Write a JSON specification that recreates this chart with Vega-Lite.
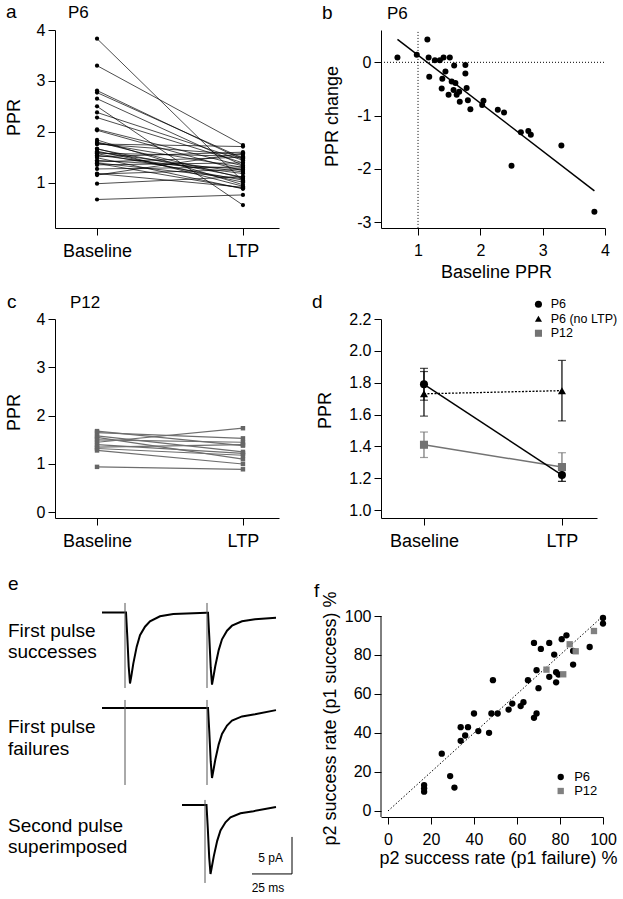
{
"$schema":"https://vega.github.io/schema/vega-lite/v6.json",
"background":"white",
"padding":{"left":5,"top":2,"right":0,"bottom":0},
"config":{
 "font":"Liberation Sans",
 "view":{"stroke":null},
 "axis":{"grid":false,"domainColor":"black","tickColor":"black","labelColor":"black","titleColor":"black","labelFontSize":16,"titleFontSize":18,"titleFontWeight":"normal","tickSize":7,"labelPadding":3,"domainWidth":1,"tickWidth":1,"labelFont":"Liberation Sans","titleFont":"Liberation Sans","labelFlush":false,"labelOverlap":false},
 "axisX":{"labelPadding":7},
 "legend":{"labelFont":"Liberation Sans","labelFontSize":13,"labelColor":"black","symbolStrokeWidth":0,"symbolOpacity":1,"padding":0},
 "text":{"font":"Liberation Sans","color":"black"}
},
"datasets":{
 "aLong":[{"id":1,"cond":0,"ppr":0.67},{"id":1,"cond":1,"ppr":0.76},{"id":2,"cond":0,"ppr":0.98},{"id":2,"cond":1,"ppr":1.12},{"id":3,"cond":0,"ppr":1.15},{"id":3,"cond":1,"ppr":1.58},{"id":4,"cond":0,"ppr":1.17},{"id":4,"cond":1,"ppr":1.26},{"id":5,"cond":0,"ppr":1.18},{"id":5,"cond":1,"ppr":0.91},{"id":6,"cond":0,"ppr":1.27},{"id":6,"cond":1,"ppr":1.31},{"id":7,"cond":0,"ppr":1.35},{"id":7,"cond":1,"ppr":1.39},{"id":8,"cond":0,"ppr":1.41},{"id":8,"cond":1,"ppr":1.50},{"id":9,"cond":0,"ppr":1.51},{"id":9,"cond":1,"ppr":1.60},{"id":10,"cond":0,"ppr":1.39},{"id":10,"cond":1,"ppr":1.08},{"id":11,"cond":0,"ppr":1.38},{"id":11,"cond":1,"ppr":0.89},{"id":12,"cond":0,"ppr":1.44},{"id":12,"cond":1,"ppr":1.27},{"id":13,"cond":0,"ppr":1.49},{"id":13,"cond":1,"ppr":0.88},{"id":14,"cond":0,"ppr":1.54},{"id":14,"cond":1,"ppr":1.18},{"id":15,"cond":0,"ppr":1.57},{"id":15,"cond":1,"ppr":1.05},{"id":16,"cond":0,"ppr":1.58},{"id":16,"cond":1,"ppr":1.52},{"id":17,"cond":0,"ppr":1.60},{"id":17,"cond":1,"ppr":1.21},{"id":18,"cond":0,"ppr":1.62},{"id":18,"cond":1,"ppr":1.01},{"id":19,"cond":0,"ppr":1.66},{"id":19,"cond":1,"ppr":1.11},{"id":20,"cond":0,"ppr":1.67},{"id":20,"cond":1,"ppr":0.93},{"id":21,"cond":0,"ppr":1.76},{"id":21,"cond":1,"ppr":1.71},{"id":22,"cond":0,"ppr":1.76},{"id":22,"cond":1,"ppr":1.55},{"id":23,"cond":0,"ppr":1.78},{"id":23,"cond":1,"ppr":1.30},{"id":24,"cond":0,"ppr":1.80},{"id":24,"cond":1,"ppr":1.09},{"id":25,"cond":0,"ppr":1.84},{"id":25,"cond":1,"ppr":0.96},{"id":26,"cond":0,"ppr":2.05},{"id":26,"cond":1,"ppr":1.33},{"id":27,"cond":0,"ppr":2.03},{"id":27,"cond":1,"ppr":1.23},{"id":28,"cond":0,"ppr":2.28},{"id":28,"cond":1,"ppr":1.39},{"id":29,"cond":0,"ppr":2.38},{"id":29,"cond":1,"ppr":1.44},{"id":30,"cond":0,"ppr":2.50},{"id":30,"cond":1,"ppr":0.56},{"id":31,"cond":0,"ppr":2.65},{"id":31,"cond":1,"ppr":1.34},{"id":32,"cond":0,"ppr":2.77},{"id":32,"cond":1,"ppr":1.48},{"id":33,"cond":0,"ppr":2.81},{"id":33,"cond":1,"ppr":1.45},{"id":34,"cond":0,"ppr":3.30},{"id":34,"cond":1,"ppr":1.74},{"id":35,"cond":0,"ppr":3.83},{"id":35,"cond":1,"ppr":1.03}],
 "bData":[{"base":0.67,"change":0.09},{"base":0.98,"change":0.14},{"base":1.15,"change":0.43},{"base":1.17,"change":0.09},{"base":1.18,"change":-0.27},{"base":1.27,"change":0.04},{"base":1.35,"change":0.04},{"base":1.41,"change":0.09},{"base":1.51,"change":0.09},{"base":1.39,"change":-0.31},{"base":1.38,"change":-0.49},{"base":1.44,"change":-0.17},{"base":1.49,"change":-0.61},{"base":1.54,"change":-0.36},{"base":1.57,"change":-0.52},{"base":1.58,"change":-0.06},{"base":1.60,"change":-0.39},{"base":1.62,"change":-0.61},{"base":1.66,"change":-0.55},{"base":1.67,"change":-0.74},{"base":1.76,"change":-0.05},{"base":1.76,"change":-0.21},{"base":1.78,"change":-0.48},{"base":1.80,"change":-0.71},{"base":1.84,"change":-0.88},{"base":2.05,"change":-0.72},{"base":2.03,"change":-0.80},{"base":2.28,"change":-0.89},{"base":2.38,"change":-0.94},{"base":2.50,"change":-1.94},{"base":2.65,"change":-1.31},{"base":2.77,"change":-1.29},{"base":2.81,"change":-1.36},{"base":3.30,"change":-1.56},{"base":3.83,"change":-2.80}],
 "cLong":[{"id":1,"cond":0,"ppr":1.68},{"id":1,"cond":1,"ppr":1.38},{"id":2,"cond":0,"ppr":1.65},{"id":2,"cond":1,"ppr":1.53},{"id":3,"cond":0,"ppr":1.58},{"id":3,"cond":1,"ppr":1.25},{"id":4,"cond":0,"ppr":1.55},{"id":4,"cond":1,"ppr":1.10},{"id":5,"cond":0,"ppr":1.50},{"id":5,"cond":1,"ppr":1.45},{"id":6,"cond":0,"ppr":1.45},{"id":6,"cond":1,"ppr":1.74},{"id":7,"cond":0,"ppr":1.40},{"id":7,"cond":1,"ppr":1.22},{"id":8,"cond":0,"ppr":1.35},{"id":8,"cond":1,"ppr":1.40},{"id":9,"cond":0,"ppr":1.32},{"id":9,"cond":1,"ppr":1.18},{"id":10,"cond":0,"ppr":1.28},{"id":10,"cond":1,"ppr":1.00},{"id":11,"cond":0,"ppr":0.94},{"id":11,"cond":1,"ppr":0.89}],
 "dData":[{"s":"P12","cond":0,"m":1.41,"lo":1.33,"hi":1.49},{"s":"P12","cond":1,"m":1.27,"lo":1.18,"hi":1.36},{"s":"P6 (no LTP)","cond":0,"m":1.73,"lo":1.59,"hi":1.87},{"s":"P6 (no LTP)","cond":1,"m":1.75,"lo":1.56,"hi":1.94},{"s":"P6","cond":0,"m":1.79,"lo":1.69,"hi":1.89},{"s":"P6","cond":1,"m":1.22,"lo":1.18,"hi":1.26}],
 "eTraces":[{"tr":1,"t":0,"pA":0.47},{"tr":1,"t":14.06,"pA":0.47},{"tr":1,"t":15.0,"pA":0.47},{"tr":1,"t":15.81,"pA":-2.78},{"tr":1,"t":16.69,"pA":-6.82},{"tr":1,"t":17.5,"pA":-9.12},{"tr":1,"t":18.31,"pA":-8.16},{"tr":1,"t":19.56,"pA":-6.43},{"tr":1,"t":21.69,"pA":-4.14},{"tr":1,"t":23.75,"pA":-2.59},{"tr":1,"t":26.88,"pA":-1.45},{"tr":1,"t":30.0,"pA":-0.73},{"tr":1,"t":36.25,"pA":-0.04},{"tr":1,"t":44.56,"pA":0.28},{"tr":1,"t":61.25,"pA":0.42},{"tr":1,"t":65.31,"pA":0.45},{"tr":1,"t":66.25,"pA":0.45},{"tr":1,"t":67.06,"pA":-2.86},{"tr":1,"t":67.94,"pA":-6.95},{"tr":1,"t":68.75,"pA":-9.28},{"tr":1,"t":69.56,"pA":-8.31},{"tr":1,"t":70.81,"pA":-6.76},{"tr":1,"t":72.94,"pA":-4.61},{"tr":1,"t":75.0,"pA":-3.15},{"tr":1,"t":78.13,"pA":-1.99},{"tr":1,"t":81.25,"pA":-1.31},{"tr":1,"t":87.5,"pA":-0.72},{"tr":1,"t":95.63,"pA":-0.43},{"tr":1,"t":108.75,"pA":-0.23},
  {"tr":2,"t":0,"pA":-12.43},{"tr":2,"t":65.31,"pA":-12.43},{"tr":2,"t":66.25,"pA":-12.43},{"tr":2,"t":67.06,"pA":-15.65},{"tr":2,"t":67.94,"pA":-19.62},{"tr":2,"t":68.75,"pA":-21.89},{"tr":2,"t":69.56,"pA":-20.95},{"tr":2,"t":70.81,"pA":-19.43},{"tr":2,"t":72.94,"pA":-17.35},{"tr":2,"t":75.0,"pA":-15.93},{"tr":2,"t":78.13,"pA":-14.80},{"tr":2,"t":81.25,"pA":-14.14},{"tr":2,"t":87.5,"pA":-13.57},{"tr":2,"t":95.63,"pA":-13.28},{"tr":2,"t":108.75,"pA":-12.72},
  {"tr":3,"t":50.0,"pA":-25.54},{"tr":3,"t":64.38,"pA":-25.54},{"tr":3,"t":65.31,"pA":-25.54},{"tr":3,"t":66.13,"pA":-28.72},{"tr":3,"t":67.0,"pA":-32.62},{"tr":3,"t":67.81,"pA":-34.86},{"tr":3,"t":68.63,"pA":-33.93},{"tr":3,"t":69.88,"pA":-32.45},{"tr":3,"t":72.0,"pA":-30.39},{"tr":3,"t":74.06,"pA":-28.99},{"tr":3,"t":77.19,"pA":-27.88},{"tr":3,"t":80.31,"pA":-27.22},{"tr":3,"t":86.56,"pA":-26.66},{"tr":3,"t":94.69,"pA":-26.38},{"tr":3,"t":108.75,"pA":-25.82}],
 "eArt":[{"tr":1,"t":14.38,"top":1.76,"bot":-9.73},{"tr":1,"t":65.63,"top":1.76,"bot":-9.73},{"tr":2,"t":14.38,"top":-11.35,"bot":-22.84},{"tr":2,"t":65.63,"top":-11.35,"bot":-22.84},{"tr":3,"t":64.38,"top":-24.86,"bot":-36.08}],
 "eBar":[{"t1":118.75,"t2":118.75,"p1":-29.86,"p2":-34.86},{"t1":93.75,"t2":118.75,"p1":-34.86,"p2":-34.86}],
 "fData":[{"g":"P6","fx":16.8,"fy":13.3},{"g":"P6","fx":16.8,"fy":11.6},{"g":"P6","fx":16.8,"fy":9.9},{"g":"P6","fx":25.0,"fy":29.4},{"g":"P6","fx":28.9,"fy":17.9},{"g":"P6","fx":30.9,"fy":12.0},{"g":"P6","fx":33.8,"fy":36.0},{"g":"P6","fx":33.8,"fy":43.0},{"g":"P6","fx":35.9,"fy":38.7},{"g":"P6","fx":37.2,"fy":43.0},{"g":"P6","fx":40.0,"fy":50.0},{"g":"P6","fx":42.0,"fy":41.0},{"g":"P6","fx":47.0,"fy":40.1},{"g":"P6","fx":48.1,"fy":50.0},{"g":"P6","fx":48.8,"fy":67.1},{"g":"P6","fx":51.0,"fy":50.0},{"g":"P6","fx":56.1,"fy":52.0},{"g":"P6","fx":57.8,"fy":55.1},{"g":"P6","fx":61.7,"fy":53.8},{"g":"P6","fx":63.0,"fy":55.8},{"g":"P6","fx":65.1,"fy":67.1},{"g":"P6","fx":67.9,"fy":47.8},{"g":"P6","fx":69.1,"fy":50.0},{"g":"P6","fx":67.9,"fy":86.2},{"g":"P6","fx":71.1,"fy":83.1},{"g":"P6","fx":69.1,"fy":72.2},{"g":"P6","fx":70.0,"fy":63.0},{"g":"P6","fx":75.0,"fy":86.2},{"g":"P6","fx":75.0,"fy":68.8},{"g":"P6","fx":77.3,"fy":80.2},{"g":"P6","fx":78.2,"fy":71.2},{"g":"P6","fx":78.2,"fy":66.0},{"g":"P6","fx":79.3,"fy":70.0},{"g":"P6","fx":80.8,"fy":88.1},{"g":"P6","fx":83.0,"fy":90.1},{"g":"P6","fx":86.1,"fy":82.1},{"g":"P6","fx":86.1,"fy":75.1},{"g":"P6","fx":93.8,"fy":84.1},{"g":"P6","fx":100,"fy":99.0},{"g":"P6","fx":100,"fy":96.1},{"g":"P12","fx":73.7,"fy":72.5},{"g":"P12","fx":84.5,"fy":85.5},{"g":"P12","fx":87.3,"fy":81.9},{"g":"P12","fx":81.5,"fy":70.1},{"g":"P12","fx":95.8,"fy":92.3}]
},
"resolve":{"scale":{"x":"independent","y":"independent","color":"independent","shape":"independent"},"legend":{"color":"independent","shape":"independent"}},
"bounds":"flush",
"columns":2,
"spacing":{"row":91,"column":81},
"concat":[
    {"width":224,"height":198,"layer":[
     {"data":{"name":"aLong"},"mark":{"type":"line","color":"black","strokeWidth":0.7},"encoding":{"x":{"field":"cond","type":"quantitative","scale":{"domain":[-0.288,1.247],"nice":false,"zero":false},"axis":{"values":[0,1],"tickCount":2,"labelExpr":"datum.value == 0 ? 'Baseline' : 'LTP'","labelFontSize":18,"title":null}},"y":{"field":"ppr","type":"quantitative","scale":{"domain":[0.11,4],"nice":false,"zero":false},"axis":{"values":[1,2,3,4],"tickCount":4,"format":"d","title":"PPR","titleX":-32,"titleY":87}},"detail":{"field":"id","type":"nominal"}}},
     {"data":{"name":"aLong"},"mark":{"type":"point","filled":true,"color":"black","size":18,"opacity":1},"encoding":{"x":{"field":"cond","type":"quantitative"},"y":{"field":"ppr","type":"quantitative"}}},
     {"data":{"values":[{}]},"mark":{"type":"text","text":"a","fontSize":19,"align":"left","baseline":"alphabetic"},"encoding":{"x":{"datum":-0.624},"y":{"datum":4.236}}},
     {"data":{"values":[{}]},"mark":{"type":"text","text":"P6","fontSize":17,"align":"left","baseline":"alphabetic"},"encoding":{"x":{"datum":-0.199},"y":{"datum":4.236}}}
    ]},
    {"width":224,"height":198,"layer":[
     {"data":{"values":[{}]},"mark":{"type":"rule","color":"black","strokeWidth":1,"strokeDash":[1,2]},"encoding":{"x":{"datum":1},"y":{"datum":0.57},"y2":{"datum":-3.107}}},
     {"data":{"values":[{}]},"mark":{"type":"rule","color":"black","strokeWidth":1,"strokeDash":[1,2]},"encoding":{"y":{"datum":0},"x":{"datum":0.406},"x2":{"datum":4}}},
     {"data":{"values":[{"bx":0.67,"by":0.43},{"bx":3.83,"by":-2.41}]},"mark":{"type":"line","color":"black","strokeWidth":1.5},"encoding":{"x":{"field":"bx","type":"quantitative"},"y":{"field":"by","type":"quantitative"}}},
     {"data":{"name":"bData"},"mark":{"type":"point","filled":true,"color":"black","size":36,"opacity":1},"encoding":{"x":{"field":"base","type":"quantitative","scale":{"domain":[0.406,4],"nice":false,"zero":false},"axis":{"values":[1,2,3,4],"tickCount":4,"format":"d","title":"Baseline PPR","titleX":115,"titleY":49,"titleBaseline":"alphabetic"}},"y":{"field":"change","type":"quantitative","scale":{"domain":[-3.107,0.606],"nice":false,"zero":false},"axis":{"values":[0,-1,-2,-3],"tickCount":4,"labelExpr":"toString(datum.value)","title":"PPR change","titleX":-40,"titleY":86}}}},
     {"data":{"values":[{}]},"mark":{"type":"text","text":"b","fontSize":19,"align":"left","baseline":"alphabetic"},"encoding":{"x":{"datum":-0.541},"y":{"datum":0.812}}},
     {"data":{"values":[{}]},"mark":{"type":"text","text":"P6","fontSize":17,"align":"left","baseline":"alphabetic"},"encoding":{"x":{"datum":0.502},"y":{"datum":0.812}}}
    ]},
    {"width":224,"height":199,"layer":[
     {"data":{"name":"cLong"},"mark":{"type":"line","color":"#6e6e6e","strokeWidth":1.2},"encoding":{"x":{"field":"cond","type":"quantitative","scale":{"domain":[-0.288,1.247],"nice":false,"zero":false},"axis":{"values":[0,1],"tickCount":2,"labelExpr":"datum.value == 0 ? 'Baseline' : 'LTP'","labelFontSize":18,"title":null}},"y":{"field":"ppr","type":"quantitative","scale":{"domain":[-0.118,4],"nice":false,"zero":false},"axis":{"values":[0,1,2,3,4],"tickCount":5,"format":"d","title":"PPR","titleX":-32,"titleY":93}},"detail":{"field":"id","type":"nominal"}}},
     {"data":{"name":"cLong"},"mark":{"type":"square","filled":true,"color":"#666666","size":20,"opacity":1},"encoding":{"x":{"field":"cond","type":"quantitative"},"y":{"field":"ppr","type":"quantitative"}}},
     {"data":{"values":[{}]},"mark":{"type":"text","text":"c","fontSize":19,"align":"left","baseline":"alphabetic"},"encoding":{"x":{"datum":-0.617},"y":{"datum":4.228}}},
     {"data":{"values":[{}]},"mark":{"type":"text","text":"P12","fontSize":17,"align":"left","baseline":"alphabetic"},"encoding":{"x":{"datum":-0.185},"y":{"datum":4.228}}}
    ]},
    {"width":216,"height":199,"layer":[
     {"data":{"name":"dData"},"transform":[{"filter":"datum.s != 'P6 (no LTP)'"}],"mark":{"type":"line","strokeWidth":1.5},"encoding":{"x":{"field":"cond","type":"quantitative","scale":{"domain":[-0.3115,1.254],"nice":false,"zero":false},"axis":{"values":[0,1],"tickCount":2,"labelExpr":"datum.value == 0 ? 'Baseline' : 'LTP'","labelFontSize":18,"title":null}},"y":{"field":"m","type":"quantitative","scale":{"domain":[0.95,2.2],"nice":false,"zero":false},"axis":{"values":[1,1.2,1.4,1.6,1.8,2,2.2],"tickCount":7,"format":".1f","labelOverlap":false,"title":"PPR","titleX":-47,"titleY":91}},"color":{"field":"s","type":"nominal"}}},
     {"data":{"name":"dData"},"transform":[{"filter":"datum.s == 'P6 (no LTP)'"}],"mark":{"type":"line","strokeWidth":1.3,"color":"black","strokeDash":[2,1.5]},"encoding":{"x":{"field":"cond","type":"quantitative"},"y":{"field":"m","type":"quantitative"}}},
     {"data":{"name":"dData"},"mark":{"type":"rule","strokeWidth":1.2},"encoding":{"x":{"field":"cond","type":"quantitative"},"y":{"field":"lo","type":"quantitative"},"y2":{"field":"hi"},"color":{"field":"s","type":"nominal"}}},
     {"data":{"name":"dData"},"mark":{"type":"tick","orient":"horizontal","size":8,"thickness":1.2},"encoding":{"x":{"field":"cond","type":"quantitative"},"y":{"field":"lo","type":"quantitative"},"color":{"field":"s","type":"nominal"}}},
     {"data":{"name":"dData"},"mark":{"type":"tick","orient":"horizontal","size":8,"thickness":1.2},"encoding":{"x":{"field":"cond","type":"quantitative"},"y":{"field":"hi","type":"quantitative"},"color":{"field":"s","type":"nominal"}}},
     {"data":{"name":"dData"},"mark":{"type":"point","filled":true,"size":65,"opacity":1},"encoding":{"x":{"field":"cond","type":"quantitative"},"y":{"field":"m","type":"quantitative"},"shape":{"field":"s","type":"nominal","scale":{"domain":["P6","P6 (no LTP)","P12"],"range":["circle","triangle-up","square"]},"legend":{"orient":"none","legendX":151.2,"legendY":-21,"title":null,"symbolSize":50,"labelOffset":6,"rowPadding":1.5,"labelFontSize":12.5}},"color":{"field":"s","type":"nominal","scale":{"domain":["P6","P6 (no LTP)","P12"],"range":["black","black","#737373"]},"legend":{"orient":"none","legendX":151.2,"legendY":-21,"title":null,"symbolSize":50,"labelOffset":6,"rowPadding":1.5,"labelFontSize":12.5}}}},
     {"data":{"values":[{}]},"mark":{"type":"text","text":"d","fontSize":19,"align":"left","baseline":"alphabetic"},"encoding":{"x":{"datum":-0.8115},"y":{"datum":2.269}}}
    ]},
   {"width":245,"height":277,"layer":[
    {"data":{"name":"eTraces"},"mark":{"type":"line","color":"black","strokeWidth":2},"encoding":{"x":{"field":"t","type":"quantitative","scale":{"domain":[-29.375,123.75],"nice":false,"zero":false},"axis":null},"y":{"field":"pA","type":"quantitative","scale":{"domain":[-36.49,0.946],"nice":false,"zero":false},"axis":null},"detail":{"field":"tr","type":"nominal"}}},
    {"data":{"name":"eArt"},"mark":{"type":"rule","color":"#555555","strokeWidth":1},"encoding":{"x":{"field":"t","type":"quantitative"},"y":{"field":"top","type":"quantitative"},"y2":{"field":"bot"}}},
    {"data":{"name":"eBar"},"mark":{"type":"rule","color":"black","strokeWidth":1},"encoding":{"x":{"field":"t1","type":"quantitative"},"x2":{"field":"t2"},"y":{"field":"p1","type":"quantitative"},"y2":{"field":"p2"}}},
    {"data":{"values":[{}]},"mark":{"type":"text","text":"e","fontSize":19,"align":"left","baseline":"alphabetic"},"encoding":{"x":{"datum":-58.75},"y":{"datum":3.5}}},
    {"data":{"values":[{}]},"mark":{"type":"text","text":"First pulse\nsuccesses","lineBreak":"\n","lineHeight":21,"fontSize":19,"align":"left","baseline":"alphabetic"},"encoding":{"x":{"datum":-58.75},"y":{"datum":-2.84}}},
    {"data":{"values":[{}]},"mark":{"type":"text","text":"First pulse\nfailures","lineBreak":"\n","lineHeight":22,"fontSize":19,"align":"left","baseline":"alphabetic"},"encoding":{"x":{"datum":-58.75},"y":{"datum":-15.81}}},
    {"data":{"values":[{}]},"mark":{"type":"text","text":"Second pulse\nsuperimposed","lineBreak":"\n","lineHeight":21,"fontSize":19,"align":"left","baseline":"alphabetic"},"encoding":{"x":{"datum":-58.75},"y":{"datum":-29.19}}},
    {"data":{"values":[{}]},"mark":{"type":"text","text":"5 pA","fontSize":12,"align":"right","baseline":"alphabetic"},"encoding":{"x":{"datum":113.1},"y":{"datum":-33.2}}},
    {"data":{"values":[{}]},"mark":{"type":"text","text":"25 ms","fontSize":12,"align":"center","baseline":"alphabetic"},"encoding":{"x":{"datum":103.75},"y":{"datum":-37.25}}}
   ]},
   {"width":222,"height":208,"layer":[
    {"data":{"values":[{}]},"mark":{"type":"rule","color":"black","strokeWidth":1},"encoding":{"x":{"datum":-3.26},"y":{"datum":-3.08},"y2":{"datum":100}}},
    {"data":{"values":[{"fx":0,"fy":0},{"fx":100,"fy":100}]},"mark":{"type":"line","color":"black","strokeWidth":1,"strokeDash":[1.5,2]},"encoding":{"x":{"field":"fx","type":"quantitative"},"y":{"field":"fy","type":"quantitative"}}},
    {"data":{"name":"fData"},"mark":{"type":"point","filled":true,"size":40,"opacity":1},"encoding":{"x":{"field":"fx","type":"quantitative","scale":{"domain":[-3.26,100],"nice":false,"zero":false},"axis":{"values":[0,20,40,60,80,100],"tickCount":6,"format":"d","title":"p2 success rate (p1 failure) %","titleX":117,"titleY":46,"titleBaseline":"alphabetic"}},"y":{"field":"fy","type":"quantitative","scale":{"domain":[-3.08,103.59],"nice":false,"zero":false},"axis":{"values":[0,20,40,60,80,100],"tickCount":6,"format":"d","domain":false,"title":"p2 success rate (p1 success) %","titleX":-42,"titleY":109}},"shape":{"field":"g","type":"nominal","scale":{"domain":["P6","P12"],"range":["circle","square"]},"legend":{"orient":"none","legendX":173.2,"legendY":161.5,"title":null,"symbolSize":40,"labelOffset":7,"rowPadding":0,"labelFontSize":13}},"color":{"field":"g","type":"nominal","scale":{"domain":["P6","P12"],"range":["black","#808080"]},"legend":{"orient":"none","legendX":173.2,"legendY":161.5,"title":null,"symbolSize":40,"labelOffset":7,"rowPadding":0,"labelFontSize":13}}}},
    {"data":{"values":[{}]},"mark":{"type":"text","text":"f","fontSize":19,"align":"left","baseline":"alphabetic"},"encoding":{"x":{"datum":-34.4},"y":{"datum":109.7}}}
   ]}
]
}
